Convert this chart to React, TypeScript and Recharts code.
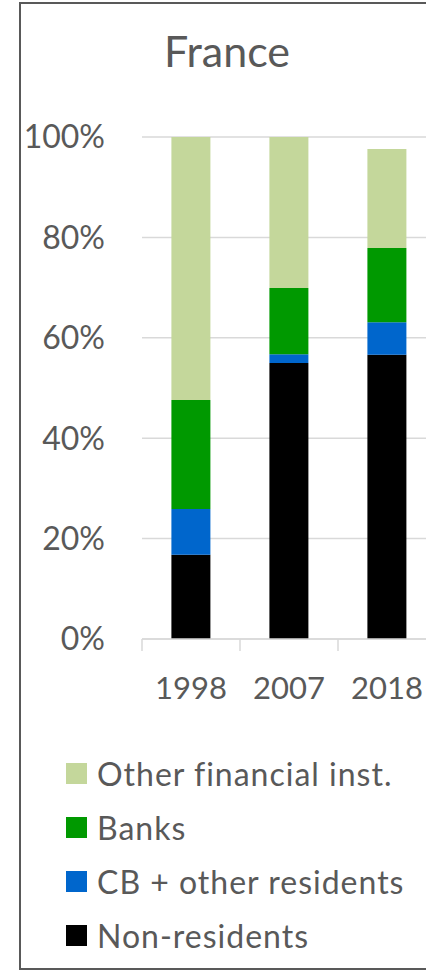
import { Bar, BarChart, CartesianGrid, Legend, XAxis, YAxis } from "recharts";

const FONT = "Lato, 'Open Sans', sans-serif";
const TEXT = "#595959";
const GRID = "#d9d9d9";

const years = ["1998", "2007", "2018"];
const nonResidents = [16.8, 55.0, 56.6];
const cbOtherResidents = [9.1, 1.7, 6.5];
const banks = [21.7, 13.2, 14.8];
const otherFinancial = [52.4, 30.1, 19.7];
const yTicks = [0, 20, 40, 60, 80, 100];

// stack order bottom -> top
const series = [
  { key: "nonResidents", name: "Non-residents", color: "#000000", values: nonResidents },
  { key: "cbOther", name: "CB + other residents", color: "#0066cc", values: cbOtherResidents },
  { key: "banks", name: "Banks", color: "#009900", values: banks },
  { key: "otherFin", name: "Other financial inst.", color: "#c4d79b", values: otherFinancial },
];

const data = years.map((year, i) => {
  const row: Record<string, string | number> = { year };
  series.forEach((s) => (row[s.key] = s.values[i]));
  return row;
});

// category label plus Excel-style tick marks on the category boundaries
function YearTick(props: any) {
  const { x, y, payload, index, visibleTicksCount, width } = props;
  const half = width / visibleTicksCount / 2;
  const top = y - 38;
  const bottom = y - 26;
  return (
    <g>
      <line x1={x - half} x2={x - half} y1={top} y2={bottom} stroke={GRID} strokeWidth={1.5} />
      {index === visibleTicksCount - 1 && (
        <line x1={x + half} x2={x + half} y1={top} y2={bottom} stroke={GRID} strokeWidth={1.5} />
      )}
      <text x={x} y={y} dy="0.71em" textAnchor="middle" fill={TEXT} fontSize={31} fontFamily={FONT}>
        {payload.value}
      </text>
    </g>
  );
}

// legend lists the top of the stack first
function StackLegend({ payload }: any) {
  const order = series.map((s) => s.name);
  const items = [...(payload ?? [])].sort(
    (a: any, b: any) => order.indexOf(b.value) - order.indexOf(a.value)
  );
  return (
    <div style={{ fontFamily: FONT, color: TEXT, fontSize: 32, letterSpacing: 1 }}>
      {items.map((item: any) => (
        <div key={item.value} style={{ display: "flex", alignItems: "center", height: 54 }}>
          <span style={{ width: 21, height: 21, background: item.color, marginRight: 10, flex: "none" }} />
          <span style={{ whiteSpace: "nowrap" }}>{item.value}</span>
        </div>
      ))}
    </div>
  );
}

export default function App() {
  return (
    <div
      style={{
        position: "absolute",
        left: 0,
        top: 0,
        width: 426,
        height: 971,
        overflow: "hidden",
        background: "#fff",
      }}
    >
      <div
        style={{
          position: "absolute",
          left: 19,
          top: 2,
          width: 440,
          height: 964,
          border: "2px solid #595959",
        }}
      />
      <div
        style={{
          position: "absolute",
          left: 20,
          top: 27,
          width: 414,
          textAlign: "center",
          fontFamily: FONT,
          fontSize: 43,
          lineHeight: "48px",
          color: TEXT,
        }}
      >
        France
      </div>
      <div style={{ position: "absolute", left: 0, top: 0 }}>
        <BarChart
          width={460}
          height={971}
          data={data}
          margin={{ top: 137, right: 24, bottom: 272, left: 0 }}
          barCategoryGap="30%"
        >
          <CartesianGrid vertical={false} stroke={GRID} strokeWidth={1.5} />
          <XAxis
            dataKey="year"
            height={60}
            axisLine={{ stroke: GRID, strokeWidth: 1.5 }}
            tickLine={false}
            tickSize={0}
            tickMargin={38}
            tick={<YearTick />}
            interval={0}
          />
          <YAxis
            width={142}
            domain={[0, 100]}
            ticks={yTicks}
            tickFormatter={(v) => `${v}%`}
            axisLine={false}
            tickLine={false}
            tickSize={0}
            tickMargin={37}
            tick={{ fill: TEXT, fontSize: 32, fontFamily: FONT }}
          />
          <Legend
            layout="vertical"
            align="center"
            verticalAlign="middle"
            wrapperStyle={{ left: 66, top: 746, width: 360 }}
            content={<StackLegend />}
          />
          {series.map((s) => (
            <Bar
              key={s.key}
              dataKey={s.key}
              name={s.name}
              stackId="total"
              fill={s.color}
              isAnimationActive={false}
            />
          ))}
        </BarChart>
      </div>
    </div>
  );
}
